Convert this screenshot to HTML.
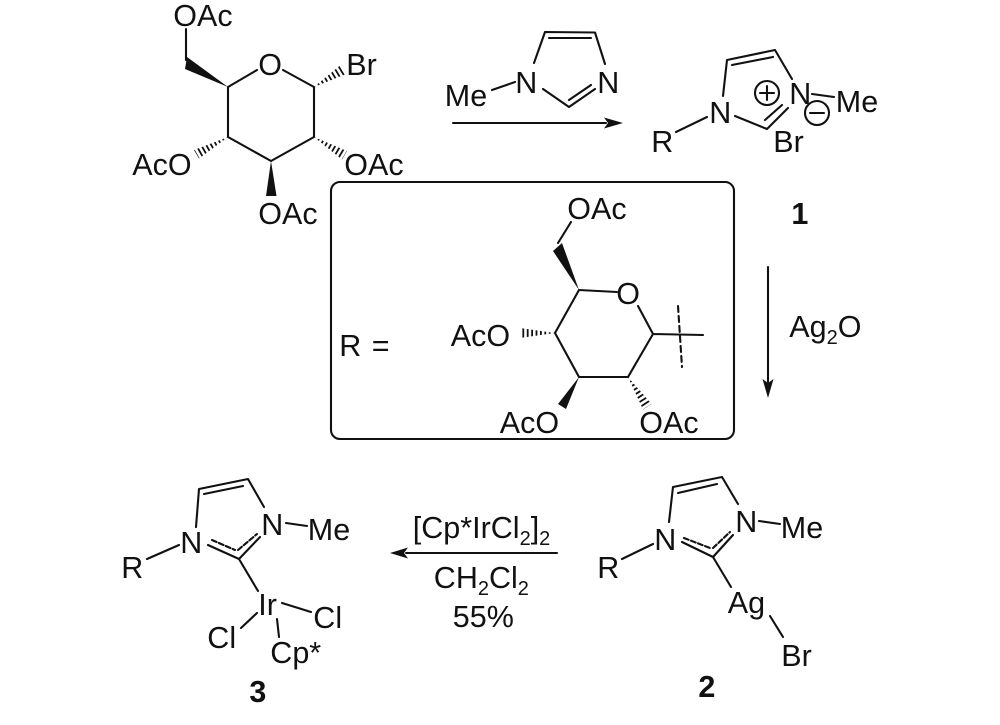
<!DOCTYPE html>
<html><head><meta charset="utf-8"><style>
html,body{margin:0;padding:0;background:#fff}
svg{display:block}
text{font-family:"Liberation Sans",sans-serif;font-size:30.5px;fill:#111;transform:translateX(.8px)}
.b{font-weight:bold}
.s{font-size:20px}
.l{stroke:#111;stroke-width:2.1;fill:none;stroke-linecap:round;stroke-linejoin:round}
.f{fill:#111;stroke:none}
.h{stroke:#111;stroke-width:16;stroke-dasharray:1.8 2.6;fill:none}
</style></head><body>
<svg width="1000" height="725" viewBox="0 0 1000 725" xmlns="http://www.w3.org/2000/svg">
<defs>
<clipPath id="h1"><polygon points="314,87 345,74.500 340,65.500"/></clipPath>
<clipPath id="h2"><polygon points="314,137 347,151 342,159.500"/></clipPath>
<clipPath id="h3"><polygon points="228,137 199,158.500 194,150"/></clipPath>
<clipPath id="h4"><polygon points="555,333 520,328 520,338"/></clipPath>
<clipPath id="h5"><polygon points="628,377 651.500,404 643,409.500"/></clipPath>
</defs>

<!-- glucosyl bromide -->
<path class="l" d="M186,29V60M228,87L257,70M283,70L314,87V137L271,161L228,137V87"/>
<polygon class="f" points="228,87 187,57 185,69"/>
<polygon class="f" points="271,161 266,196 276.500,196"/>
<line class="h" x1="314" y1="87" x2="344" y2="69" clip-path="url(#h1)"/>
<line class="h" x1="314" y1="137" x2="346" y2="156" clip-path="url(#h2)"/>
<line class="h" x1="228" y1="137" x2="196" y2="155" clip-path="url(#h3)"/>
<text x="172.500" y="26">OAc</text>
<text x="257.500" y="75">O</text>
<text x="345.500" y="75">Br</text>
<text x="131.500" y="175">AcO</text>
<text x="343.500" y="175">OAc</text>
<text x="257.500" y="224">OAc</text>

<!-- arrow 1 + methylimidazole -->
<path class="l" d="M453,123H606"/>
<polygon class="f" points="623,123 604,117.500 608,123 604,128.500"/>
<path class="l" d="M534,63L545,32L595,32.500L605,64M549,38H591M492,90L515,82M543,89L569,107L595,89M569,100L591,85"/>
<text x="514.500" y="93">N</text>
<text x="596.500" y="93">N</text>
<text x="444" y="106">Me</text>

<!-- compound 1 -->
<path class="l" d="M723,96L727,60L775,50L792,79M732,65L773,57M812,94L834,97M676,132L707,117M735,116L767,129L788,108M765,120L782,105"/>
<text x="708.500" y="123">N</text>
<text x="788.500" y="104">N</text>
<text x="835" y="112">Me</text>
<text x="650.500" y="152">R</text>
<text x="772.500" y="152">Br</text>
<circle class="l" cx="767" cy="93" r="12"/>
<path class="l" d="M760,93H774M767,86V100"/>
<circle class="l" cx="817" cy="113" r="12"/>
<path class="l" d="M810,113H824"/>
<text class="b" x="799" y="224" text-anchor="middle">1</text>

<!-- R box -->
<rect class="l" x="331" y="182" width="403" height="257" rx="9"/>
<text x="338.500" y="356">R</text>
<text x="371" y="356">=</text>
<path class="l" d="M558,243L571,222M579,290L617,292M638,306L653,334L628,377L579,377L555,333L579,290M653,334L703,335"/>
<polygon class="f" points="579,290 553,251 562,243"/>
<polygon class="f" points="579,377 558,404 566,409"/>
<line class="h" x1="555" y1="333" x2="520" y2="333" clip-path="url(#h4)"/>
<line class="h" x1="628" y1="377" x2="650" y2="411" clip-path="url(#h5)"/>
<path class="l" stroke-dasharray="6 4" d="M678,306L682,367"/>
<text x="566.500" y="219">OAc</text>
<text x="615.500" y="304">O</text>
<text x="450" y="346">AcO</text>
<text x="499" y="433">AcO</text>
<text x="638.500" y="433">OAc</text>

<!-- arrow 2 -->
<path class="l" d="M768,267V382"/>
<polygon class="f" points="768,398 762.500,379 768,383 773.500,379"/>
<text x="788.500" y="337">Ag<tspan class="s" dy="7">2</tspan><tspan dy="-7">O</tspan></text>

<!-- arrow 3 -->
<path class="l" d="M557,553H406"/>
<polygon class="f" points="390,553 408,547.500 404,553 408,558.500"/>
<text x="412" y="538">[Cp*IrCl<tspan class="s" dy="7">2</tspan><tspan dy="-7">]</tspan><tspan class="s" dy="7">2</tspan></text>
<text x="433" y="588">CH<tspan class="s" dy="7">2</tspan><tspan dy="-7">Cl</tspan><tspan class="s" dy="7">2</tspan></text>
<text x="452" y="627">55%</text>

<!-- compound 2 -->
<path class="l" d="M669,522L673,487L722,477L738,504M678,493L717,484M759,521L780,524M622,559L653,544M682,542L713,557L733,535M713,557L731,587M770,616L783,637"/>
<path class="l" stroke-dasharray="5 2.500" d="M684,538L710,548M713,548L730,532"/>
<text x="653.500" y="550">N</text>
<text x="734.500" y="532">N</text>
<text x="780" y="538">Me</text>
<text x="596.500" y="578">R</text>
<text x="727" y="613">Ag</text>
<text x="780.500" y="666">Br</text>
<text class="b" x="706" y="697" text-anchor="middle">2</text>

<!-- compound 3 -->
<path class="l" d="M196,527L199,489L248,479L264,507M204,494L243,486M286,523L307,526M147,559L179,545M208,545L239,559L260,537M239,559L258,591M282,603L311,612M257,613L241,628M277,619L279,637"/>
<path class="l" stroke-dasharray="5 2.500" d="M212,540L235,550M238,550L257,534"/>
<text x="179.500" y="553">N</text>
<text x="260.500" y="535">N</text>
<text x="307" y="540">Me</text>
<text x="120.500" y="578">R</text>
<text x="257.500" y="615">Ir</text>
<text x="312.500" y="628">Cl</text>
<text x="206.500" y="648">Cl</text>
<text x="269.500" y="663">Cp*</text>
<text class="b" x="257" y="702" text-anchor="middle">3</text>
</svg>
</body></html>
